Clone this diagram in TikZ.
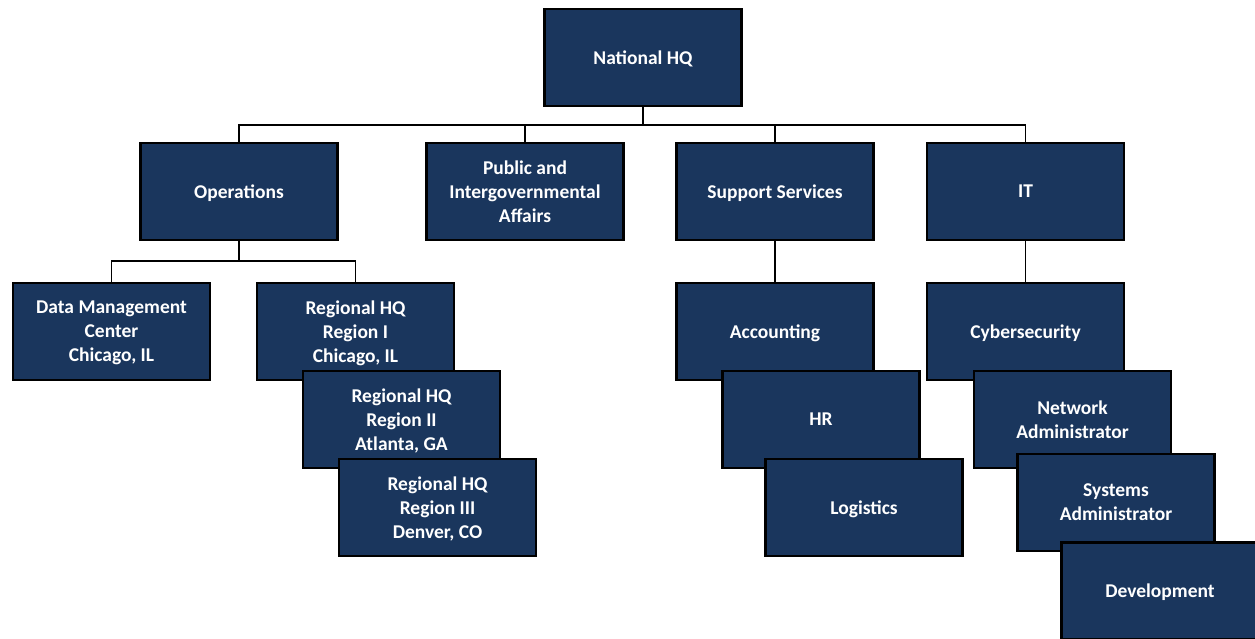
\documentclass[tikz,border=0pt]{standalone}
\usepackage{fontspec}
\setmainfont{Carlito}
\definecolor{navy}{RGB}{26,54,93}
\tikzset{
    box/.style={draw=black, line width=2.5pt, fill=navy, text=white,
        font=\fontsize{19.5}{24}\selectfont\bfseries, align=center,
        minimum width=197pt, minimum height=97pt, inner sep=0pt,
        text depth=0pt},
    link/.style={draw=black, line width=1.8pt}
}

\begin{document}
\begin{tikzpicture}[x=1pt, y=-1pt]
            \useasboundingbox (0, 0) rectangle (1255, 639);

            % Top level
            \node [box] (nhq) at (643, 57.5) {National HQ};

            \node [box] (ops) at (239, 191.5) {Operations};
            \node [box] (pub) at (525, 191.5) {Public and\\Intergovernmental\\Affairs};
            \node [box] (sup) at (775, 191.5) {Support Services};
            \node [box] (it) at (1025.5, 191.5) {IT};

            % Lines from National HQ
            \coordinate (bus) at (643, 125);
            \draw[link] (nhq.south) -- (bus);
            \foreach \c in {ops, pub, sup, it}
                \draw[link] (bus) -| (\c.north);

            % Lines below
            \coordinate (opsbus) at (239, 261);
            \draw[link] (ops.south) -- (opsbus);
            \coordinate (dmctop) at (111.5, 283);
            \coordinate (regtop) at (355.5, 283);
            \draw[link] (opsbus) -| (dmctop);
            \draw[link] (opsbus) -| (regtop);
            \draw[link] (sup.south) -- (775, 283);
            \draw[link] (it.south) -- (1025.5, 283);

            % Operations
            \node [box] (dmc) at (111.5, 331.5) {Data Management\\Center\\Chicago, IL};
            \node [box] (reg1) at (355.5, 331.5) {Regional HQ\\Region I\\Chicago, IL};
            \node [box] (reg2) at (401.5, 419.5) {Regional HQ\\Region II\\Atlanta, GA};
            \node [box] (reg3) at (437.5, 507.5) {Regional HQ\\Region III\\Denver, CO};

            % Support Services
            \node [box] (acc) at (775, 331.5) {Accounting};
            \node [box] (hr) at (821, 419.5) {HR};
            \node [box] (log) at (864, 507.5) {Logistics};

            % IT
            \node [box] (cyb) at (1025.5, 331.5) {Cybersecurity};
            \node [box] (net) at (1072.5, 419.5) {Network\\Administrator};
            \node [box] (sys) at (1116, 502.5) {Systems\\Administrator};
            \node [box] (dev) at (1160, 591) {Development};

        \end{tikzpicture}
\end{document}
